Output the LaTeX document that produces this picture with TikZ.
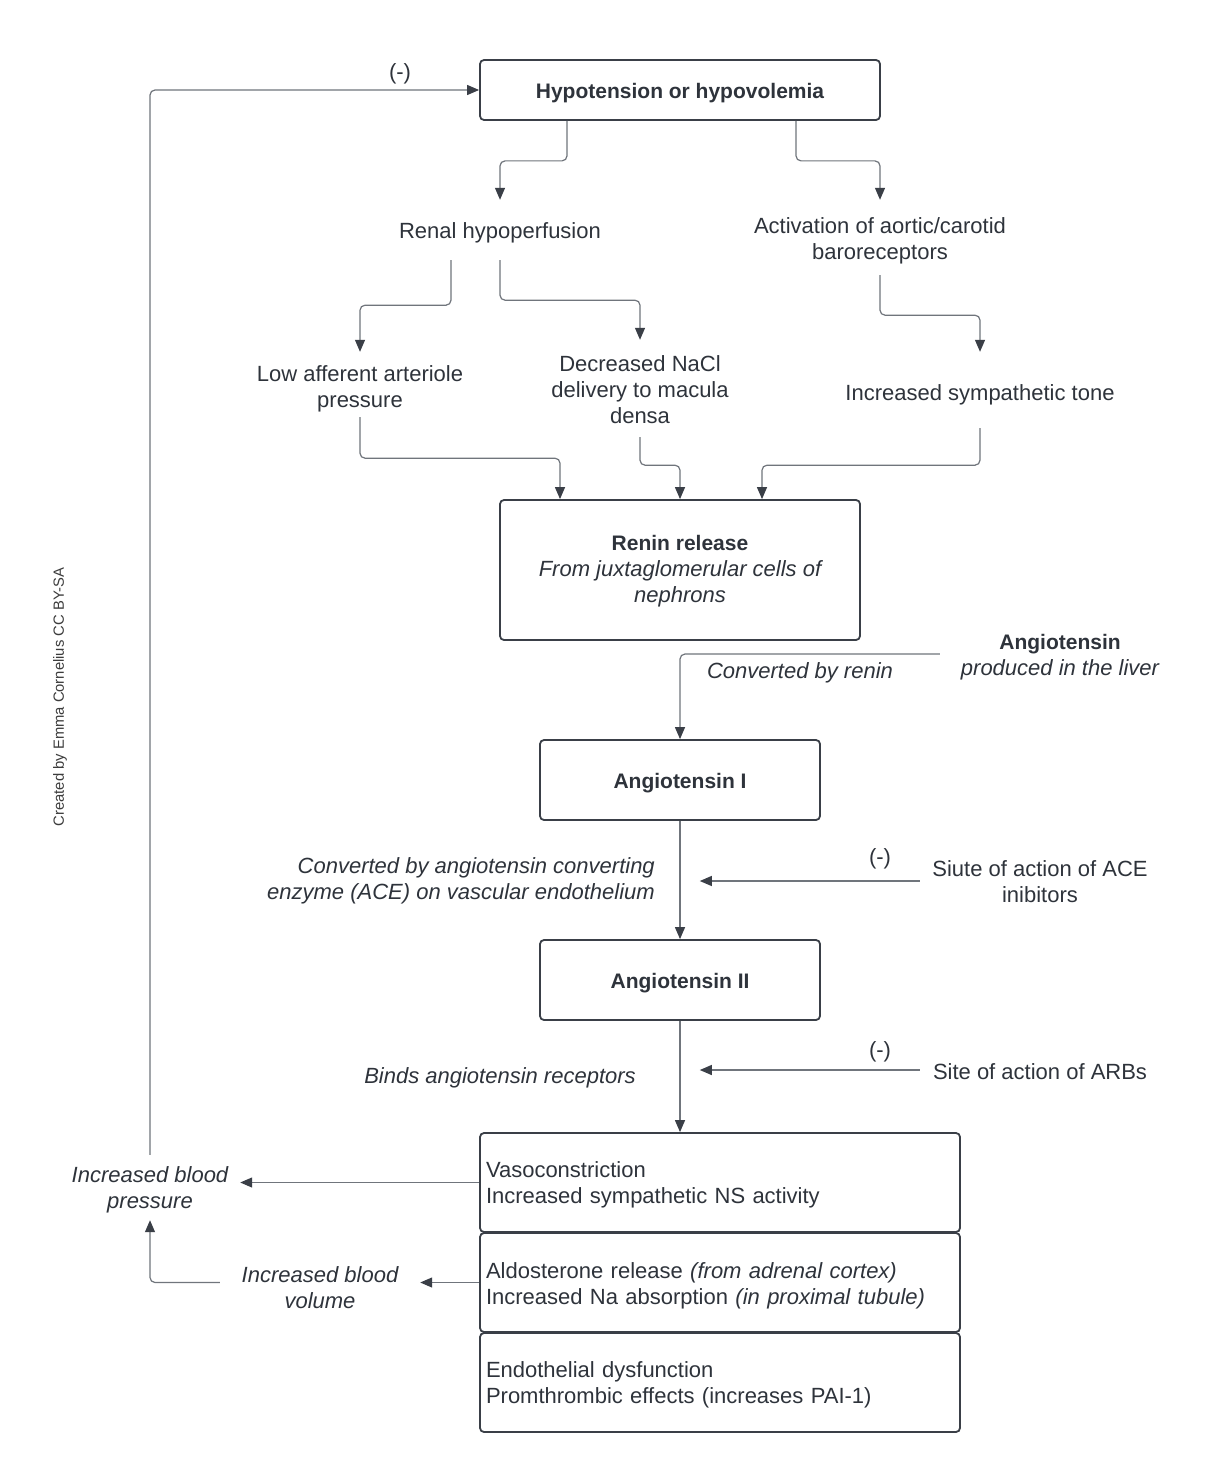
\documentclass[tikz,border=0pt]{standalone}
\usepackage{fontspec}
\setmainfont{Liberation Sans}
\usetikzlibrary{arrows.meta,calc}
\definecolor{ink}{HTML}{2E333B}
\definecolor{edge}{HTML}{3A3F47}
\definecolor{wire}{HTML}{70757C}
\definecolor{credcol}{HTML}{3C3C3C}
% lowered block of lines: \mv{shift}{column type}{lines}
\newcommand\mv[3]{\raisebox{-#1}[\height][\depth]{\begin{tabular}{@{}#2@{}}#3\end{tabular}}}
\tikzset{
  base/.style={font=\fontsize{22}{26}\selectfont, text=ink, inner sep=0pt, align=center},
  box/.style={base, draw=edge, line width=1.8pt, rounded corners=4pt, fill=white},
  txt/.style={base},
  eff/.style={box, minimum width=480pt, minimum height=99pt, text width=468pt, align=left, inner sep=6pt},
  conn/.style={draw=wire, line width=1.2pt, rounded corners=5pt, -{Triangle[length=12pt,width=10pt,color=edge]}},
  bfs/.style={font=\fontsize{21}{26}\selectfont\bfseries}
}
\begin{document}
\begin{tikzpicture}[x=1pt,y=1pt]
\useasboundingbox[fill=white] (0,0) rectangle (1220,-1474);

% nodes
\node[box,bfs,minimum width=400pt,minimum height=60pt] (hypo) at (680,-90) {\mv{3.5pt}{c}{Hypotension or hypovolemia}};
\node[txt,minimum height=60pt] (renal) at (500,-230) {\mv{3pt}{c}{Renal hypoperfusion}};
\node[txt,minimum height=75pt] (baro) at (880,-237.5) {\mv{4pt}{c}{Activation of aortic/carotid\\baroreceptors}};
\node[txt,minimum height=65pt] (low) at (360,-384.5) {\mv{4.5pt}{c}{Low afferent arteriole\\pressure}};
\node[txt,minimum height=97pt] (nacl) at (640,-388.5) {\mv{3.3pt}{c}{Decreased NaCl\\delivery to macula\\densa}};
\node[txt,minimum height=76pt] (symp) at (980,-390) {\mv{5.5pt}{c}{Increased sympathetic tone}};
\node[box,minimum width=360pt,minimum height=140pt] (renin) at (680,-570)
  {\mv{1pt}{c}{{\fontsize{21}{26}\selectfont\bfseries Renin release}\\\itshape From juxtaglomerular cells of\\\itshape nephrons}};
\node[txt,minimum width=240pt] (liver) at (1060,-654)
  {\mv{3pt}{c}{{\fontsize{21}{26}\selectfont\bfseries Angiotensin}\\\itshape produced in the liver}};
\node[txt] (lrenin) at (800,-670) {\mv{3pt}{c}{\itshape Converted by renin}};
\node[box,bfs,minimum width=280pt,minimum height=80pt] (ang1) at (680,-780) {\mv{3pt}{c}{Angiotensin I}};
\node[txt,align=right,anchor=east] (lace) at (655,-878)
  {\mv{3pt}{r}{\itshape Converted by angiotensin converting\\\itshape enzyme (ACE) on vascular endothelium}};
\node[txt] (m1) at (880,-857) {\mv{2.5pt}{c}{(-)}};
\node[txt,minimum width=240pt] (sace) at (1040,-881) {\mv{3.7pt}{c}{Siute of action of ACE\\inibitors}};
\path (sace.west) ++(-220pt,0) coordinate (aceT);
\node[box,bfs,minimum width=280pt,minimum height=80pt] (ang2) at (680,-980) {\mv{3pt}{c}{Angiotensin II}};
\node[txt] (lbind) at (500,-1075) {\mv{3pt}{c}{\itshape Binds angiotensin receptors}};
\node[txt] (m2) at (880,-1050) {\mv{2.5pt}{c}{(-)}};
\node[txt,minimum width=240pt] (sarb) at (1040,-1070) {\mv{3.8pt}{c}{Site of action of ARBs}};
\path (sarb.west) ++(-220pt,0) coordinate (arbT);

\node[eff] (e1) at (720,-1182.5) {\mv{3pt}{l}{Vasoconstriction\\Increased sympathetic NS activity}};
\node[eff] (e2) at (720,-1282.5) {\mv{4pt}{l}{Aldosterone release {\itshape (from adrenal cortex)}\\Increased Na absorption {\itshape (in proximal tubule)}}};
\node[eff] (e3) at (720,-1382.5) {\mv{3pt}{l}{Endothelial dysfunction\\Promthrombic effects (increases PAI-1)}};

\node[txt,minimum width=180pt,minimum height=65pt] (bp) at (150,-1187.5) {\mv{2.5pt}{c}{\itshape Increased blood\\\itshape pressure}};
\node[txt,minimum width=200pt] (vol) at (320,-1286) {\mv{3.8pt}{c}{\itshape Increased blood\\\itshape volume}};
\node[txt] (m0) at (400,-72) {\mv{2.5pt}{c}{(-)}};

\node[rotate=90,font=\fontsize{14.8}{17}\selectfont,text=credcol,inner sep=0pt] (credit) at (60,-697) {Created by Emma Cornelius CC BY-SA};

% connectors
\draw[conn] ([xshift=-113pt]hypo.south) -- ++(0,-40) -| (renal.north);
\draw[conn] ([xshift=116pt]hypo.south) -- ++(0,-40) -| (baro.north);
\draw[conn] ([xshift=-49pt]renal.south) -- ++(0,-45) -| (low.north);
\draw[conn] (renal.south) -- ++(0,-40) -| (nacl.north);
\draw[conn] (baro.south) -- ++(0,-40) -| (symp.north);
\draw[conn] (low.south) -- ++(0,-41) -| ([xshift=-120pt]renin.north);
\draw[conn] (nacl.south) -- ++(0,-28) -| (renin.north);
\draw[conn] (symp.south) -- ++(0,-37) -| ([xshift=82pt]renin.north);
\draw[conn] (liver.west) -| (ang1.north);
\draw[conn] (ang1.south) -- (ang2.north);
\draw[conn] (sace.west) -- (aceT);
\draw[conn] (ang2.south) -- (ang2.south |- e1.north);
\draw[conn] (sarb.west) -- (arbT);
\draw[conn] (e1.west) -- (e1.west -| bp.east);
\draw[conn] (e2.west) -- (e2.west -| vol.east);
\draw[conn] (e2.west -| vol.west) -| (bp.south);
\draw[conn] (bp.north) |- (hypo.west);
\end{tikzpicture}
\end{document}
